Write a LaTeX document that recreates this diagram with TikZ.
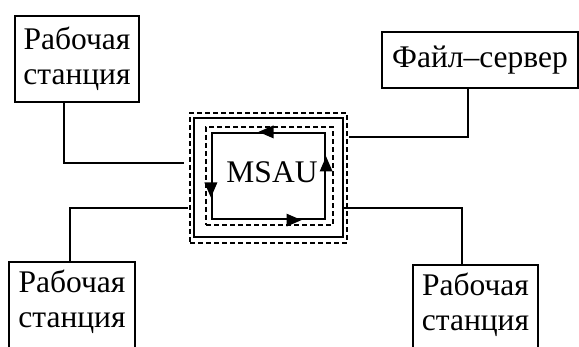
\documentclass[tikz,border=0pt]{standalone}
\usepackage{fontspec}
\setmainfont{Liberation Serif}
\usetikzlibrary{calc}
\begin{document}
\begin{tikzpicture}[x=1pt,y=-1pt,
  txt/.style={align=center, font=\fontsize{31.5}{35}\selectfont, inner sep=0pt},
  box/.style={txt, draw, line width=2.3pt},
  boxline/.style={line width=2.3pt},
  conn/.style={line width=2.3pt},
  dashbox/.style={draw, dash pattern=on 5pt off 3pt, line width=1.8pt, inner sep=0pt},
  solidbox/.style={draw, line width=2.5pt, inner sep=0pt},
  ringbox/.style={draw, line width=2.2pt, inner sep=0pt}]
\useasboundingbox (0,0) rectangle (579,347);
\clip (0,0) rectangle (579,347);
% stations
\node[box, minimum width=124pt, minimum height=86pt] (ws1) at (77,59) {Рабочая\\станция};
\node[box, minimum width=196pt, minimum height=56pt] (fs) at (480,60) {Файл–сервер};
\node[txt, minimum width=126pt, minimum height=80pt] (ws2) at (72,302) {Рабочая\\станция};
\node[txt, minimum width=125pt, minimum height=80pt] (ws3) at (475.5,305) {Рабочая\\станция};
\draw[boxline] ($(ws2.south west)+(0,20)$) |- (ws2.north east) -- ($(ws2.south east)+(0,20)$);
\draw[boxline] ($(ws3.south west)+(0,20)$) |- (ws3.north east) -- ($(ws3.south east)+(0,20)$);
% MSAU
\node[dashbox, minimum width=157pt, minimum height=130pt] (outer) at (268.5,178) {};
\node[solidbox, minimum width=149pt, minimum height=119pt] (solid) at (268.5,177.5) {};
\node[dashbox, minimum width=127pt, minimum height=98pt] (inner) at (269.5,176) {};
\node[ringbox, minimum width=113pt, minimum height=86pt] (ring) at (268.5,176) {};
\node[txt, anchor=base] (label) at (272,183) {MSAU};
% ring arrows
\fill ($(ring.north)+(-10,0)$) -- ++(15,-6.5) -- ++(0,13) -- cycle;
\fill ($(ring.west)+(0,21.5)$) -- ++(-6.5,-15) -- ++(13,0) -- cycle;
\fill ($(ring.south)+(33,0)$) -- ++(-15,-6.5) -- ++(0,13) -- cycle;
\fill ($(ring.east)+(0,-19.5)$) -- ++(-6.5,15) -- ++(13,0) -- cycle;
% connectors
\draw[conn] ($(ws1.south)+(-13,0)$) |- ($(outer.west)+(-5,-15)$);
\draw[conn] ($(ws2.north)+(-2,0)$) |- ($(outer.west)+(-1,30)$);
\draw[conn] ($(fs.south)+(-12,0)$) |- ($(outer.east)+(1,-41)$);
\draw[conn] ($(ws3.north)+(-13.5,0)$) |- ($(solid.east)+(0,30.5)$);
\end{tikzpicture}
\end{document}
